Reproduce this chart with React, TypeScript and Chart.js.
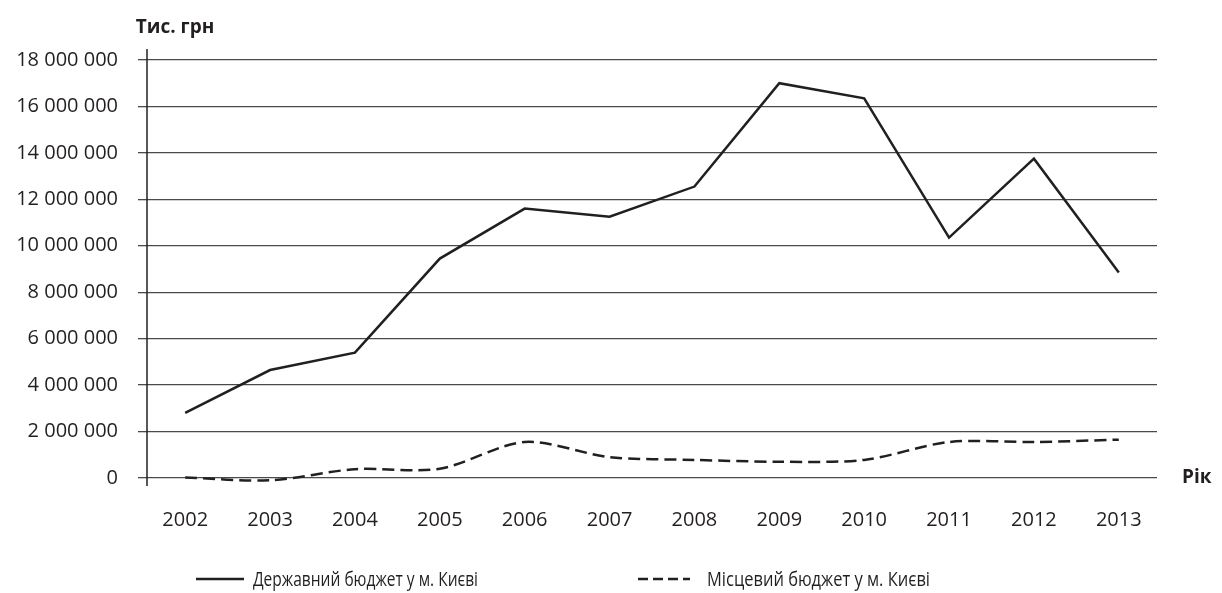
import React, { useEffect, useRef } from "react";
import { Chart, registerables } from "chart.js";

Chart.register(...registerables);

const years = ["2002", "2003", "2004", "2005", "2006", "2007", "2008", "2009", "2010", "2011", "2012", "2013"];
const stateBudget = [2800000, 4650000, 5400000, 9450000, 11600000, 11250000, 12550000, 17000000, 16350000, 10350000, 13750000, 8850000];
const localBudget = [20000, -100000, 380000, 400000, 1550000, 900000, 780000, 700000, 780000, 1550000, 1550000, 1650000];
const seriesNames = ["Державний бюджет у м. Києві", "Місцевий бюджет у м. Києві"];
const yTitle = "Тис. грн";
const xTitle = "Рік";

const INK = "#231f20";

const fmt = (v: number) => String(Math.round(v)).replace(/\B(?=(\d{3})+(?!\d))/g, " ");
const toPoints = (vals: number[]) => vals.map((v, i) => ({ x: Number(years[i]), y: v }));

const overlay = {
  id: "overlay",
  afterDraw(chart: any) {
    const ctx = chart.ctx as CanvasRenderingContext2D;
    const a = chart.chartArea;
    ctx.save();
    ctx.strokeStyle = INK;
    ctx.lineWidth = 1.5;
    ctx.beginPath();
    ctx.moveTo(a.left, a.top - 11);
    ctx.lineTo(a.left, a.bottom + 8);
    ctx.stroke();
    ctx.fillStyle = INK;
    ctx.font = "bold 19px 'Open Sans'";
    ctx.textBaseline = "middle";
    ctx.textAlign = "center";
    ctx.fillText(yTitle, 167, 20);
    ctx.textAlign = "left";
    ctx.fillText(xTitle, a.right + 25, a.bottom);
    const ly = 571;
    const items = [
      { x: 188, len: 48, tx: 245, w: 225, dash: [] as number[] },
      { x: 630, len: 52, tx: 699, w: 223, dash: [10, 5] },
    ];
    ctx.font = "20px 'Open Sans'";
    items.forEach((it, i) => {
      ctx.strokeStyle = INK;
      ctx.lineWidth = 2.5;
      ctx.setLineDash(it.dash);
      ctx.beginPath();
      ctx.moveTo(it.x, ly);
      ctx.lineTo(it.x + it.len, ly);
      ctx.stroke();
      ctx.setLineDash([]);
      ctx.fillText(chart.data.datasets[i].label, it.tx, ly + 1, it.w);
    });
    ctx.restore();
  },
};

export default function App() {
  const ref = useRef<HTMLCanvasElement>(null);
  useEffect(() => {
    if (!ref.current) return;
    const chart = new Chart(ref.current, {
      type: "line",
      data: {
        datasets: [
          {
            label: seriesNames[0],
            data: toPoints(stateBudget),
            borderColor: INK,
            borderWidth: 2.5,
            pointRadius: 0,
            tension: 0,
            clip: false as any,
          },
          {
            label: seriesNames[1],
            data: toPoints(localBudget),
            borderColor: INK,
            borderWidth: 2.5,
            borderDash: [12, 6],
            pointRadius: 0,
            tension: 0.3,
            clip: false as any,
          },
        ],
      },
      options: {
        animation: false,
        responsive: false,
        layout: { padding: { top: 52, right: 57, left: 0, bottom: 0 } },
        plugins: { legend: { display: false }, tooltip: { enabled: false } },
        scales: {
          x: {
            type: "linear",
            min: 2001.55,
            max: 2013.45,
            grid: { display: false },
            border: { display: false },
            afterBuildTicks(s: any) { s.ticks = years.map((y) => ({ value: Number(y) })); },
            ticks: {
              color: INK,
              font: { family: "'Open Sans'", size: 20 },
              padding: 22,
              maxRotation: 0,
              autoSkip: false,
              callback: (v: any) => String(v),
            },
            afterFit(s: any) { s.height = 115; },
          },
          y: {
            min: 0,
            max: 18000000,
            grid: { color: "#4a4a4a", lineWidth: 1.3, tickLength: 9, tickColor: "#4a4a4a" },
            border: { display: false },
            ticks: {
              stepSize: 2000000,
              color: INK,
              font: { family: "'Open Sans'", size: 20 },
              padding: 20,
              callback: (v: any) => fmt(Number(v)),
            },
            afterFit(s: any) { s.width = 139; },
          },
        },
      },
      plugins: [overlay],
    });
    return () => chart.destroy();
  }, []);
  return (
    <div style={{ width: 1206, height: 585 }}>
      <canvas ref={ref} width={1206} height={585} style={{ display: "block" }} />
    </div>
  );
}
